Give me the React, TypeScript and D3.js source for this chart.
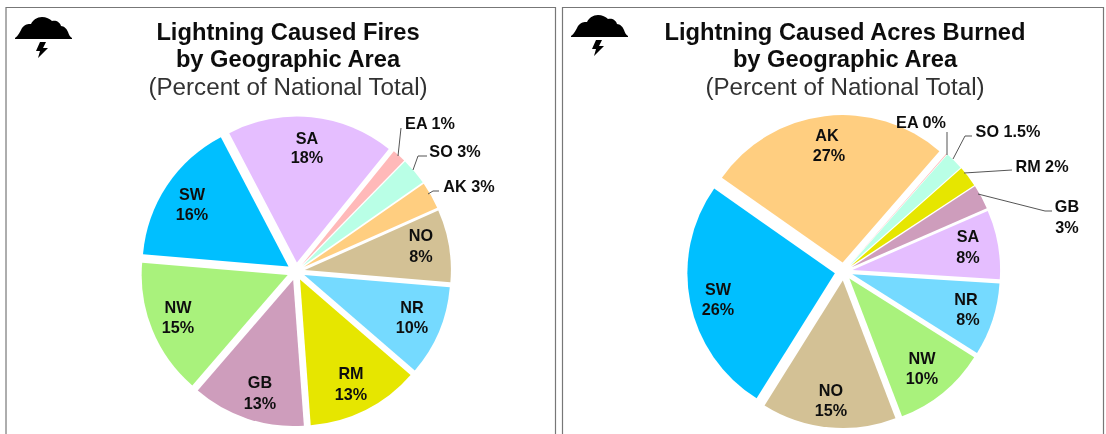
import React from "react";
import * as d3 from "d3";

const firesNames = ["EA","SO","AK","NO","NR","RM","GB","NW","SW","SA"];
const firesValues = [1.5,3,3,8,10,12.5,12.5,15,16,18.5];
const acresNames = ["EA","SO","RM","GB","SA","NR","NW","NO","SW","AK"];
const acresValues = [0.1,2,2.3,2.7,7.6,8,10.3,14.8,26,26.8];
const colors: Record<string,string> = {
  EA:"#FFB9B9",SO:"#B9FFE6",AK:"#FFCE80",NO:"#D3C195",NR:"#75DAFF",RM:"#E6E600",
  GB:"#CE9DBC",NW:"#A9F27C",SW:"#00BFFF",SA:"#E5BEFF",
};
const firesLabels: [string,number,number][] = [
  ["SA",307,138],["18%",307,157],["SW",192,194],["16%",192,214],["NW",178,307],["15%",178,327],
  ["GB",260,382],["13%",260,403],["RM",351,373],["13%",351,394],["NR",412,307],["10%",412,327],
  ["NO",421,235],["8%",421,256],["EA 1%",430,123],["SO 3%",455,151],["AK 3%",469,186],
];
const acresLabels: [string,number,number][] = [
  ["AK",827,135],["27%",829,155],["SW",718,289],["26%",718,309],["NO",831,390],["15%",831,410],
  ["NW",922,358],["10%",922,378],["NR",966,299],["8%",968,319],["SA",968,236],["8%",968,257],
  ["GB",1067,206],["3%",1067,227],["RM 2%",1042,166],["SO 1.5%",1008,131],["EA 0%",921,122],
];
const firesLeaders = ["M398 156 L401 128","M413 170 L418 156 L427 156","M428 194 L433 191 L439 191"];
const acresLeaders = ["M947 155 L947 132","M953 159 L965 136 L972 136","M964 173 L1012 170","M978 194 L1045 211 L1052 211"];
const titleLines = ["by Geographic Area","(Percent of National Total)"];

function Pie({names,values,cx,cy,r,explode,start}:{names:string[];values:number[];cx:number;cy:number;r:number;explode:number;start:number}){
  const pie = d3.pie<number>().sort(null).startAngle(start).endAngle(start+2*Math.PI);
  const arc = d3.arc<d3.PieArcDatum<number>>().innerRadius(0).outerRadius(r);
  return <g>{pie(values).map((s,i)=>{
    const m=(s.startAngle+s.endAngle)/2;
    const dx=Math.sin(m)*explode, dy=-Math.cos(m)*explode;
    return <path key={i} d={arc(s)!} transform={`translate(${cx+dx},${cy+dy})`} fill={colors[names[i]]}/>;
  })}</g>;
}

function Cloud({x,y}:{x:number;y:number}){
  return <g transform={`translate(${x},${y})`} fill="#000">
    <path d="M0 21 C3 19 5 15 7 11 C10 7 13 7 16 7 C18 3 22 0 27 0 C31 0 35 2 37 4 C41 3 45 5 46 9 C49 9 52 12 53 15 C54 18 55 20 57 21 L57 22 L0 22 Z"/>
    <path d="M25 25 L31 25 L28 31 L33 31 L23 41 L25 34 L21 34 Z"/>
  </g>;
}

function Labels({rows}:{rows:[string,number,number][]}){
  return <g fontFamily="'Liberation Sans',Arial,sans-serif" fontWeight="bold" fontSize="16.2" fill="#111" textAnchor="middle">
    {rows.map(([t,x,y],i)=><text key={i} x={x} y={y+5.5}>{t}</text>)}
  </g>;
}

export default function App(){
  const font="'Liberation Sans',Arial,sans-serif";
  return <svg width={1106} height={434} style={{position:"absolute",left:0,top:0,background:"#fff"}}>
    <defs><filter id="soft" x="-2%" y="-2%" width="104%" height="104%"><feGaussianBlur stdDeviation="0.45"/></filter></defs>
    <g filter="url(#soft)">
      <path d="M6 434 V7.5 H555.5 V434 M562.5 434 V7.5 H1103.5 V434" fill="none" stroke="#777" strokeWidth="1.2"/>
      <Cloud x={15} y={17}/>
      <Cloud x={571} y={15}/>
      <Pie names={firesNames} values={firesValues} cx={296} cy={271.5} r={146} explode={9} start={39*Math.PI/180}/>
      <Pie names={acresNames} values={acresValues} cx={843.7} cy={271.5} r={147.5} explode={9} start={41*Math.PI/180}/>
      <Labels rows={firesLabels}/>
      <Labels rows={acresLabels}/>
      <g fill="none" stroke="#555" strokeWidth="1">
        {firesLeaders.concat(acresLeaders).map((d,i)=><path key={i} d={d}/>)}
      </g>
      <g fontFamily={font} textAnchor="middle" fill="#111">
        <text x={288} y={40} fontSize="23.7" fontWeight="bold">Lightning Caused Fires</text>
        <text x={288} y={67} fontSize="23.7" fontWeight="bold">{titleLines[0]}</text>
        <text x={288} y={95} fontSize="24.2" fill="#333">{titleLines[1]}</text>
        <text x={845} y={40} fontSize="23.7" fontWeight="bold">Lightning Caused Acres Burned</text>
        <text x={845} y={67} fontSize="23.7" fontWeight="bold">{titleLines[0]}</text>
        <text x={845} y={95} fontSize="24.2" fill="#333">{titleLines[1]}</text>
      </g>
    </g>
  </svg>;
}
